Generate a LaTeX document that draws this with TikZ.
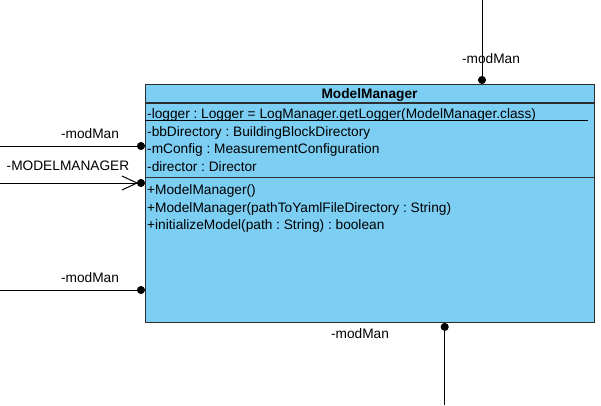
\documentclass[tikz,border=0pt]{standalone}
\usepackage{fontspec}
\setmainfont{Liberation Sans}
\usetikzlibrary{arrows.meta}
\definecolor{clsfill}{RGB}{124,206,243}
\definecolor{clsline}{RGB}{45,45,45}
\frenchspacing
\begin{document}
\begin{tikzpicture}[x=1pt,y=-1pt,
  font=\fontsize{13.7}{16}\selectfont,
  conn/.style={draw=black, line width=1pt},
  dotend/.style={-{Circle[length=8pt,width=8pt]}},
  lbl/.style={inner sep=0pt, anchor=center},
  row/.style={inner sep=0pt, anchor=base west},
  sep/.style={draw=clsline, line width=1.2pt}]
\useasboundingbox (0,0) rectangle (601,405);
% class box
\node[draw=clsline, fill=clsfill, line width=1.2pt, minimum width=449pt,
      minimum height=237.7pt, inner sep=0pt, anchor=north west] (cls) at (145,84) {};
\node[inner sep=0pt, anchor=base, font=\fontsize{13.7}{16}\selectfont\bfseries] (title) at (369.5,98) {ModelManager};
\coordinate (s1) at (0,103);
\coordinate (s2) at (0,177.7);
\draw[sep] (cls.west |- s1) -- (cls.east |- s1);
\draw[sep] (cls.west |- s2) -- (cls.east |- s2);
% attributes
\node[row] (a1) at (147,118) {-logger : Logger = LogManager.getLogger(ModelManager.class)};
\coordinate (u1) at (146,120);
\coordinate (u2) at (588,120);
\draw[black, line width=1pt] (u1) -- (u2);
\node[row] (a2) at (147,136) {-bbDirectory : BuildingBlockDirectory};
\node[row] (a3) at (147,153.6) {-mConfig : MeasurementConfiguration};
\node[row] (a4) at (147,171.2) {-director : Director};
% methods
\node[row] (m1) at (147,194.6) {+ModelManager()};
\node[row] (m2) at (147,212.2) {+ModelManager(pathToYamlFileDirectory : String)};
\node[row] (m3) at (147,229.8) {+initializeModel(path : String) : boolean};
% connectors
\coordinate (topend) at (482,0);
\draw[conn,dotend] (topend) -- (topend |- cls.north);
\node[lbl] (t1) at (491,59) {-modMan};
\coordinate (left1) at (0,146);
\draw[conn,dotend] (left1) -- (left1 -| cls.west);
\node[lbl] (t2) at (90,134) {-modMan};
\coordinate (left2) at (0,183);
\draw[conn,dotend] (left2) -- (left2 -| cls.west);
\coordinate (mmtip) at (137,183);
\draw[conn] (mmtip) ++(-15,-7) -- (mmtip) -- ++(-15,7);
\node[lbl] (t3) at (68,166) {-MODELMANAGER};
\coordinate (left3) at (0,290);
\draw[conn,dotend] (left3) -- (left3 -| cls.west);
\node[lbl] (t4) at (90,278) {-modMan};
\coordinate (botend) at (444.7,405);
\draw[conn,dotend] (botend) -- (botend |- cls.south);
\node[lbl] (t5) at (360,334) {-modMan};
\end{tikzpicture}
\end{document}
